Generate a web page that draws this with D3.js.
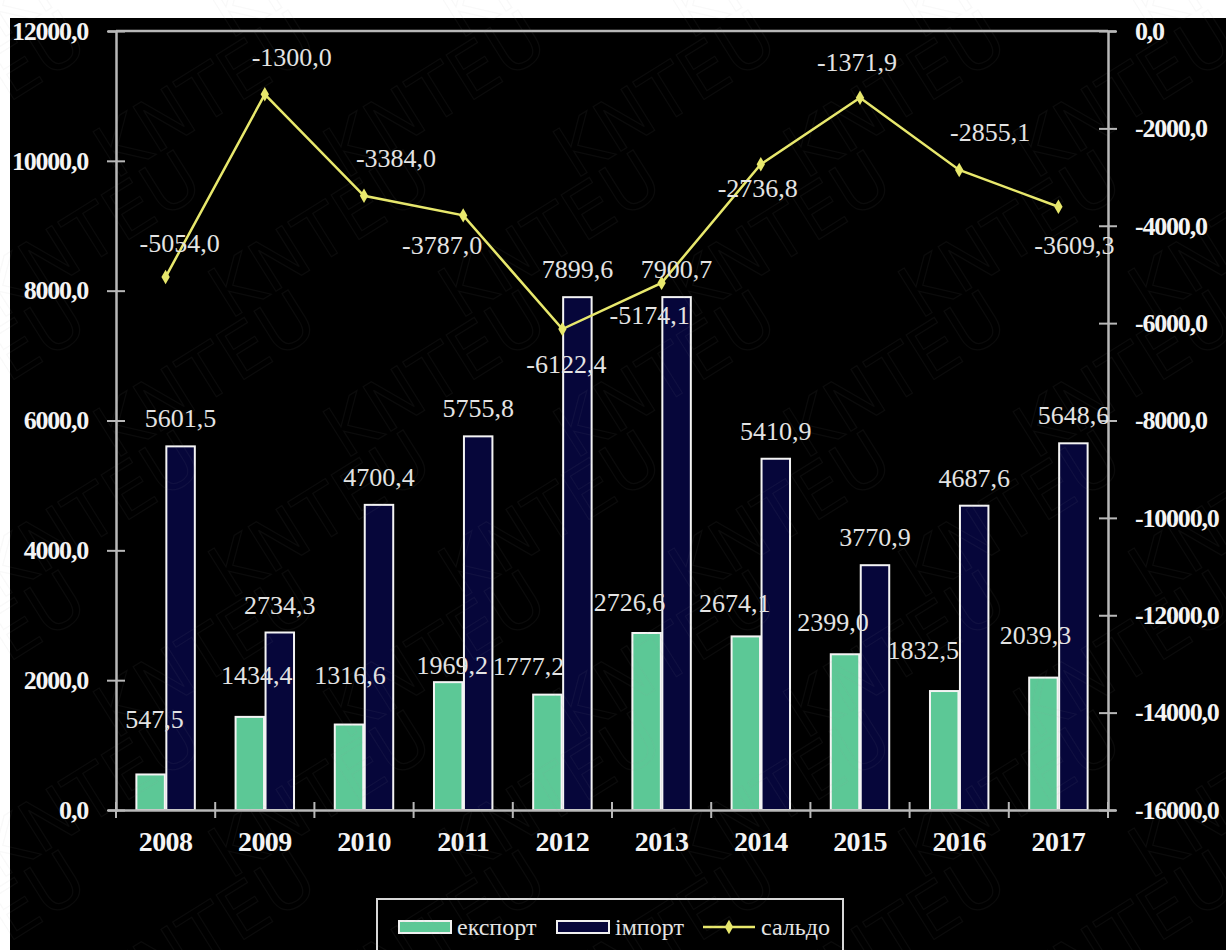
<!DOCTYPE html>
<html>
<head>
<meta charset="utf-8">
<script src="https://cdn.jsdelivr.net/npm/d3@7"></script>
<style>
  html, body { margin: 0; padding: 0; background: #ffffff; }
  svg { display: block; }
</style>
</head>
<body>
<svg id="chart" width="1226" height="950"></svg>
<script>
// ---- data ----
const years = ["2008","2009","2010","2011","2012","2013","2014","2015","2016","2017"];
const exportValues = [547.5, 1434.4, 1316.6, 1969.2, 1777.2, 2726.6, 2674.1, 2399.0, 1832.5, 2039.3];
const importValues = [5601.5, 2734.3, 4700.4, 5755.8, 7899.6, 7900.7, 5410.9, 3770.9, 4687.6, 5648.6];
const saldoValues  = [-5054.0, -1300.0, -3384.0, -3787.0, -6122.4, -5174.1, -2736.8, -1371.9, -2855.1, -3609.3];
const leftTicks  = [0, 2000, 4000, 6000, 8000, 10000, 12000];
const rightTicks = [0, -2000, -4000, -6000, -8000, -10000, -12000, -14000, -16000];
const seriesNames = ["експорт", "імпорт", "сальдо"];
const watermarkText = "KNTEU";

// ---- label placement (manually moved labels in the original) ----
const exportLabelShift = [[-11,-56],[-8,-42],[-14,-50],[-11,-17],[-34,-29],[-32,-31],[-26,-34],[-27,-32],[-36,-41],[-23,-43]];
const saldoLabelShift  = [[14,-34],[27,-37],[32,-38],[-21,30],[4,35],[-12,32],[-3,24],[-3,-36],[31,-38],[16,38]];

// ---- styles ----
const C = {
  bg: "#000000", exp: "#5cc896", imp: "#06063a", line: "#e8e86c",
  axis: "#b8b8b8", text: "#e4e4e4", tick: "#f4f4f4"
};
const serif = "'Liberation Serif','Times New Roman',serif";

const fmt = v => d3.format(".1f")(v).replace("−", "-").replace(".", ",");

const svg = d3.select("#chart");
const plot = { left: 116, right: 1108, top: 31, bottom: 810 };

// black panel
svg.append("rect").attr("x", 10).attr("y", 18).attr("width", 1216).attr("height", 932).attr("fill", C.bg);

// scales
const x = d3.scaleBand().domain(years).range([plot.left, plot.right]).padding(0);
const xs = d3.scaleBand().domain(["export","import"]).range([0, x.bandwidth()]).paddingInner(0.05).paddingOuter(0.68);
const yL = d3.scaleLinear().domain([0, 12000]).range([plot.bottom, plot.top]);
const yR = d3.scaleLinear().domain([-16000, 0]).range([plot.bottom, plot.top]);

// top border of plot area
svg.append("line").attr("x1", plot.left).attr("x2", plot.right).attr("y1", plot.top).attr("y2", plot.top)
  .attr("stroke", C.axis).attr("stroke-width", 2.5);

// bars
const bars = svg.append("g");
bars.selectAll("rect.exp").data(exportValues).join("rect")
  .attr("x", (d,i) => x(years[i]) + xs("export"))
  .attr("width", xs.bandwidth())
  .attr("y", d => yL(d))
  .attr("height", d => yL(0) - yL(d))
  .attr("fill", C.exp).attr("stroke", "#f4f4f4").attr("stroke-width", 2);
bars.selectAll("rect.imp").data(importValues).join("rect")
  .attr("x", (d,i) => x(years[i]) + xs("import"))
  .attr("width", xs.bandwidth())
  .attr("y", d => yL(d))
  .attr("height", d => yL(0) - yL(d))
  .attr("fill", C.imp).attr("stroke", "#f4f4f4").attr("stroke-width", 2);

// left axis
const gL = svg.append("g").attr("transform", `translate(${plot.left},0)`)
  .call(d3.axisLeft(yL).tickValues(leftTicks).tickFormat(fmt).tickSize(8).tickPadding(20));
// right axis
const gR = svg.append("g").attr("transform", `translate(${plot.right},0)`)
  .call(d3.axisRight(yR).tickValues(rightTicks).tickFormat(fmt).tickSize(8).tickPadding(19));
[gL, gR].forEach(g => {
  g.select(".domain").attr("stroke", C.axis).attr("stroke-width", 2.5);
  g.selectAll(".tick line").attr("stroke", C.axis).attr("stroke-width", 2)
    .attr("x1", -9).attr("x2", 9);
  g.selectAll(".tick text").attr("fill", C.tick)
    .style("font-family", serif).style("font-weight", "bold").style("font-size", "26px")
    .style("letter-spacing", "-1.2px");
});

// bottom axis
const gB = svg.append("g").attr("transform", `translate(0,${plot.bottom})`)
  .call(d3.axisBottom(x).tickSize(0).tickPadding(21));
gB.select(".domain").attr("stroke", C.axis).attr("stroke-width", 2.5);
gB.selectAll(".tick text").attr("fill", C.tick)
  .style("font-family", serif).style("font-weight", "bold").style("font-size", "28px")
  .style("letter-spacing", "-0.6px");
const boundaries = years.map(y => x(y)).concat([x(years[years.length-1]) + x.bandwidth()]);
gB.selectAll("line.bnd").data(boundaries).join("line").attr("class", "bnd")
  .attr("x1", d => d).attr("x2", d => d).attr("y1", -8).attr("y2", 8)
  .attr("stroke", C.axis).attr("stroke-width", 2);

// saldo line
const cx = i => x(years[i]) + x.bandwidth() / 2;
const line = d3.line().x((d,i) => cx(i)).y(d => yR(d));
svg.append("path").datum(saldoValues).attr("d", line)
  .attr("fill", "none").attr("stroke", C.line).attr("stroke-width", 2.5);
const diamond = d3.symbol().type(d3.symbolDiamond).size(60);
svg.selectAll("path.mk").data(saldoValues).join("path").attr("class", "mk")
  .attr("d", diamond)
  .attr("transform", (d,i) => `translate(${cx(i)},${yR(d)})`)
  .attr("fill", C.line);

// data labels
const labelStyle = sel => sel.attr("fill", C.text).attr("text-anchor", "middle").attr("dy", "0.35em")
  .style("font-family", serif).style("font-size", "26px");
const lbl = svg.append("g");
lbl.selectAll("text.ie").data(importValues).join("text")
  .attr("x", (d,i) => x(years[i]) + xs("import") + xs.bandwidth()/2)
  .attr("y", d => yL(d) - 28)
  .text(fmt).call(labelStyle);
lbl.selectAll("text.ex").data(exportValues).join("text")
  .attr("x", (d,i) => cx(i) + exportLabelShift[i][0])
  .attr("y", (d,i) => yL(d) + exportLabelShift[i][1])
  .text(fmt).call(labelStyle);
lbl.selectAll("text.sa").data(saldoValues).join("text")
  .attr("x", (d,i) => cx(i) + saldoLabelShift[i][0])
  .attr("y", (d,i) => yR(d) + saldoLabelShift[i][1])
  .text(fmt).call(labelStyle);

// legend
const lg = svg.append("g");
lg.append("rect").attr("x", 377).attr("y", 899).attr("width", 466).attr("height", 70)
  .attr("fill", C.bg).attr("stroke", "#d8d8d8").attr("stroke-width", 2);
const legendItems = [
  { name: seriesNames[0], type: "bar", color: C.exp, x: 399 },
  { name: seriesNames[1], type: "bar", color: C.imp, x: 557 },
  { name: seriesNames[2], type: "line", color: C.line, x: 703 }
];
legendItems.forEach(it => {
  if (it.type === "bar") {
    lg.append("rect").attr("x", it.x).attr("y", 921).attr("width", 52).attr("height", 12)
      .attr("fill", it.color).attr("stroke", "#f0f0f0").attr("stroke-width", 2);
  } else {
    lg.append("line").attr("x1", it.x).attr("x2", it.x + 52).attr("y1", 927).attr("y2", 927)
      .attr("stroke", it.color).attr("stroke-width", 2.5);
    lg.append("path").attr("d", diamond).attr("transform", `translate(${it.x + 26},927)`).attr("fill", it.color);
  }
  lg.append("text").attr("x", it.x + 58).attr("y", 935).text(it.name)
    .attr("fill", C.text).style("font-family", serif).style("font-size", "24px");
});

// faint diagonal watermark (as in the original image)
const wm = svg.append("g").attr("pointer-events", "none").attr("opacity", 0.07);
for (let r = -1; r < 8; r++) {
  for (let c = -1; c < 7; c++) {
    wm.append("text").attr("transform", `translate(${c*230 + (r%2)*115},${r*140 + 40}) rotate(-32)`)
      .text(watermarkText).attr("fill", "none").attr("stroke", "#a0a0a0").attr("stroke-width", 1.2)
      .style("font-family", "'DejaVu Sans',sans-serif").style("font-size", "72px");
  }
}
</script>
</body>
</html>
